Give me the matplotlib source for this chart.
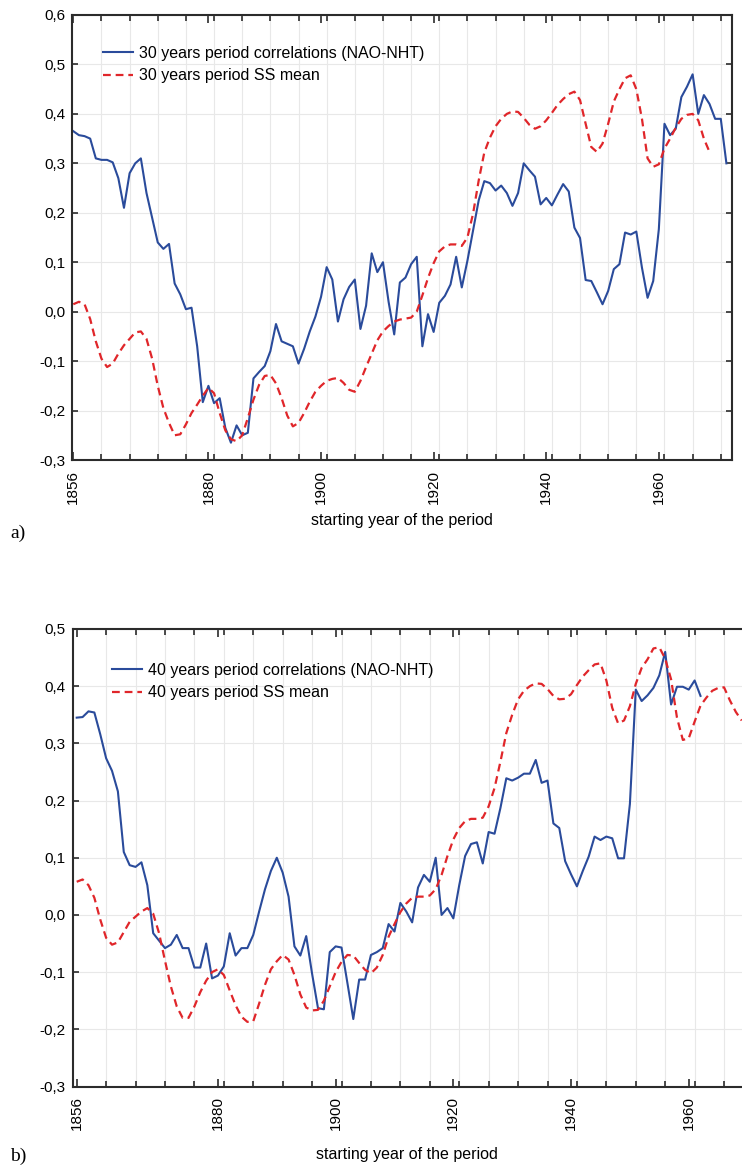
import numpy as np
import matplotlib
matplotlib.use("Agg")
import matplotlib.pyplot as plt
from matplotlib.ticker import FixedLocator, FuncFormatter

plt.rcParams['font.family'] = ['Liberation Sans', 'DejaVu Sans']

# ---- data: panel a) 30-year windows ----
corr30 = [0.365, 0.357, 0.355, 0.350, 0.310, 0.307, 0.307, 0.302, 0.270, 0.210,
          0.280, 0.300, 0.310, 0.240, 0.190, 0.140, 0.127, 0.137, 0.057, 0.035,
          0.005, 0.008, -0.070, -0.183, -0.150, -0.185, -0.175, -0.235, -0.265, -0.230,
          -0.250, -0.245, -0.135, -0.122, -0.110, -0.080, -0.025, -0.060, -0.065, -0.070,
          -0.105, -0.075, -0.040, -0.010, 0.030, 0.090, 0.065, -0.020, 0.025, 0.050,
          0.065, -0.035, 0.012, 0.118, 0.080, 0.100, 0.020, -0.046, 0.059, 0.069,
          0.096, 0.111, -0.070, -0.005, -0.041, 0.018, 0.032, 0.055, 0.111, 0.049,
          0.103, 0.164, 0.225, 0.264, 0.260, 0.245, 0.255, 0.240, 0.214, 0.240,
          0.300, 0.286, 0.273, 0.217, 0.230, 0.215, 0.237, 0.258, 0.243, 0.170,
          0.149, 0.064, 0.062, 0.039, 0.015, 0.042, 0.086, 0.096, 0.160, 0.156,
          0.162, 0.089, 0.028, 0.062, 0.167, 0.380, 0.357, 0.370, 0.434, 0.455,
          0.480, 0.400, 0.438, 0.420, 0.390, 0.390, 0.300]
ss30 = [0.015, 0.020, 0.015, -0.015, -0.060, -0.095, -0.112, -0.105, -0.085, -0.068,
        -0.055, -0.042, -0.040, -0.055, -0.095, -0.150, -0.195, -0.225, -0.250, -0.248,
        -0.228, -0.205, -0.188, -0.170, -0.154, -0.165, -0.205, -0.240, -0.258, -0.262,
        -0.250, -0.215, -0.178, -0.148, -0.130, -0.128, -0.145, -0.175, -0.210, -0.232,
        -0.225, -0.205, -0.182, -0.162, -0.150, -0.140, -0.136, -0.134, -0.144, -0.158,
        -0.162, -0.140, -0.112, -0.085, -0.058, -0.040, -0.029, -0.020, -0.016, -0.014,
        -0.012, 0.000, 0.033, 0.068, 0.098, 0.122, 0.132, 0.136, 0.136, 0.133,
        0.150, 0.198, 0.265, 0.322, 0.352, 0.375, 0.390, 0.400, 0.405, 0.404,
        0.392, 0.378, 0.370, 0.375, 0.387, 0.402, 0.418, 0.430, 0.440, 0.445,
        0.428, 0.380, 0.333, 0.323, 0.340, 0.380, 0.425, 0.450, 0.472, 0.478,
        0.450, 0.390, 0.310, 0.293, 0.298, 0.330, 0.350, 0.372, 0.390, 0.398,
        0.400, 0.387, 0.350, 0.323]

# ---- panel b) 40-year windows ----
corr40 = [0.345, 0.346, 0.356, 0.354, 0.316, 0.274, 0.252, 0.216, 0.110, 0.087,
          0.084, 0.092, 0.052, -0.032, -0.045, -0.058, -0.052, -0.035, -0.058, -0.058,
          -0.092, -0.092, -0.050, -0.111, -0.106, -0.090, -0.032, -0.071, -0.058, -0.058,
          -0.035, 0.006, 0.045, 0.077, 0.100, 0.074, 0.032, -0.055, -0.071, -0.037,
          -0.103, -0.163, -0.165, -0.065, -0.055, -0.057, -0.119, -0.182, -0.113, -0.113,
          -0.070, -0.065, -0.058, -0.016, -0.029, 0.021, 0.006, -0.013, 0.048, 0.070,
          0.058, 0.100, 0.000, 0.012, -0.006, 0.052, 0.103, 0.124, 0.127, 0.090,
          0.145, 0.142, 0.187, 0.239, 0.235, 0.240, 0.247, 0.247, 0.271, 0.231,
          0.235, 0.160, 0.152, 0.094, 0.071, 0.050, 0.077, 0.102, 0.137, 0.131,
          0.137, 0.134, 0.099, 0.099, 0.194, 0.394, 0.374, 0.384, 0.397, 0.419,
          0.460, 0.368, 0.399, 0.399, 0.394, 0.410, 0.383]
ss40 = [0.058, 0.062, 0.052, 0.030, -0.008, -0.040, -0.052, -0.048, -0.030, -0.012,
        -0.003, 0.006, 0.012, 0.002, -0.032, -0.080, -0.125, -0.160, -0.180, -0.180,
        -0.160, -0.135, -0.115, -0.100, -0.095, -0.105, -0.132, -0.158, -0.178, -0.187,
        -0.186, -0.155, -0.122, -0.095, -0.081, -0.070, -0.078, -0.105, -0.139, -0.162,
        -0.167, -0.166, -0.150, -0.125, -0.100, -0.082, -0.070, -0.071, -0.084, -0.096,
        -0.102, -0.092, -0.070, -0.038, -0.016, 0.005, 0.020, 0.030, 0.032, 0.032,
        0.034, 0.045, 0.070, 0.103, 0.132, 0.152, 0.164, 0.168, 0.168, 0.170,
        0.190, 0.222, 0.268, 0.318, 0.350, 0.377, 0.392, 0.400, 0.405, 0.404,
        0.395, 0.383, 0.377, 0.378, 0.386, 0.402, 0.417, 0.428, 0.438, 0.440,
        0.410, 0.362, 0.335, 0.340, 0.365, 0.404, 0.432, 0.447, 0.466, 0.468,
        0.448, 0.412, 0.345, 0.306, 0.309, 0.338, 0.366, 0.380, 0.392, 0.397,
        0.398, 0.375, 0.355, 0.340]

first_year = 1856
year_ticks = [1856, 1880, 1900, 1920, 1940, 1960]

BLUE = '#2a4b9b'
RED = '#e0262a'
SPINE = '#2b2b2b'
W, H = 742, 1168


def comma(v, pos):
    return ('%.1f' % v).replace('.', ',').replace('-0,0', '0,0')


def style_axes(ax, xlim, ylim, label_y, right_spine=True):
    ax.set_xlim(*xlim)
    ax.set_ylim(*ylim)
    ax.xaxis.set_major_locator(FixedLocator(year_ticks))
    ax.xaxis.set_minor_locator(FixedLocator(np.arange(1861, 1975, 5)))
    ax.yaxis.set_major_locator(FixedLocator(np.arange(ylim[0], ylim[1] + 0.01, 0.1)))
    ax.yaxis.set_major_formatter(FuncFormatter(comma))
    ax.grid(True, which='minor', axis='x', color='#e8e8e8', lw=0.8)
    ax.grid(True, which='major', axis='y', color='#e8e8e8', lw=0.8)
    ax.set_axisbelow(True)
    ax.tick_params(axis='x', which='major', direction='in', length=6, width=1.2,
                   top=True, labelsize=11, labelrotation=90, pad=7, color=SPINE)
    ax.tick_params(axis='x', which='minor', direction='in', length=4, width=1.2,
                   top=True, color=SPINE)
    ax.tick_params(axis='y', direction='in', length=4, width=1.2, right=right_spine,
                   labelsize=11, pad=5, color=SPINE)
    for s in ax.spines.values():
        s.set_linewidth(1.5)
        s.set_color(SPINE)
    if not right_spine:
        ax.spines['right'].set_visible(False)
    ax.set_xlabel('starting year of the period', fontsize=11.5)
    ax.xaxis.label.set_va('center')
    ax.xaxis.set_label_coords(0.5, label_y)


def add_legend(ax, x_px, y_px):
    ax.legend(loc='upper left', bbox_to_anchor=(x_px / W, 1 - y_px / H),
              bbox_transform=fig.transFigure, frameon=False, fontsize=11.5,
              handlelength=1.9, handletextpad=0.35, labelspacing=0.45,
              borderpad=0, borderaxespad=0)


fig = plt.figure(figsize=(W / 100, H / 100), dpi=100)

# panel a: spines at x 72..732 px, y 15..460 px
ax1 = fig.add_axes([72 / W, 1 - 460 / H, 659.7 / W, 445 / H])
ax1.plot(first_year + np.arange(len(corr30)), corr30, color=BLUE, lw=1.5,
         label='30 years period correlations (NAO-NHT)')
ax1.plot(first_year + np.arange(len(ss30)), ss30, color=RED, lw=1.6,
         dashes=(3.5, 2.2), label='30 years period SS mean')
style_axes(ax1, (1855.77, 1972.94), (-0.3, 0.6), (460 - 521) / 445)
add_legend(ax1, 103, 46)
fig.text(10 / W, 1 - 533 / H, 'a)', family=['Liberation Serif'], fontsize=14, va='center')

# panel b: spines at x 72.7..(cut at right edge), y 629..1086.5 px
ax2 = fig.add_axes([72.7 / W, 1 - 1086.5 / H, (W - 72.7) / W, 457.5 / H])
ax2.plot(first_year + np.arange(len(corr40)), corr40, color=BLUE, lw=1.5,
         label='40 years period correlations (NAO-NHT)')
ax2.plot(first_year + np.arange(len(ss40)), ss40, color=RED, lw=1.6,
         dashes=(3.5, 2.2), label='40 years period SS mean')
style_axes(ax2, (1855.32, 1969.05), (-0.3, 0.5), (1086.5 - 1155) / 457.5, right_spine=False)
add_legend(ax2, 112, 663)
fig.text(10 / W, 1 - 1156 / H, 'b)', family=['Liberation Serif'], fontsize=14, va='center')

fig.savefig('out.png', dpi=100)
